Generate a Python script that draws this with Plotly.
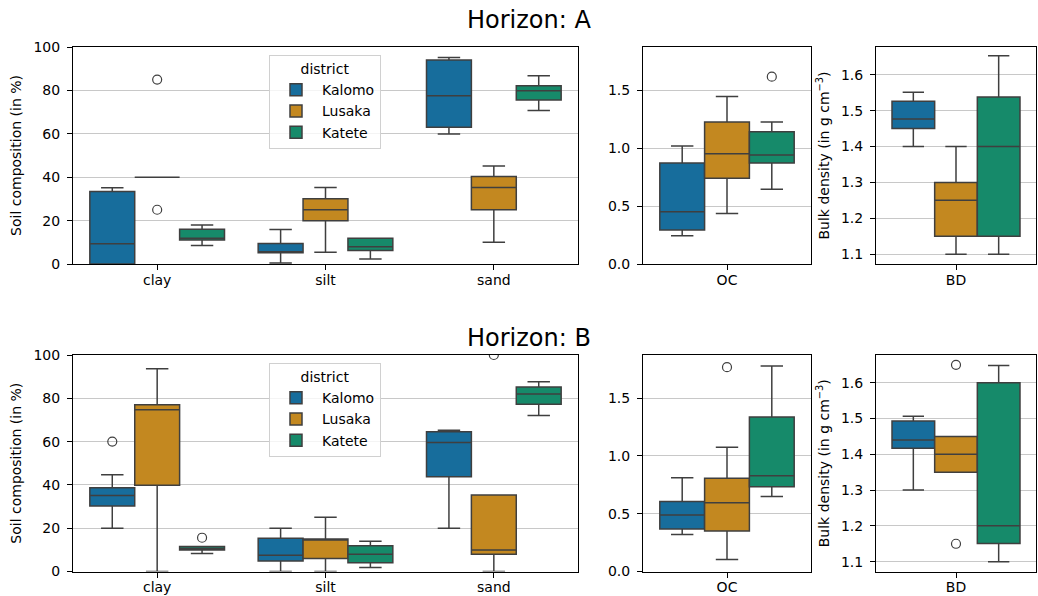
import plotly.graph_objects as go

# ---------------- data ----------------
districts = ["Kalomo", "Lusaka", "Katete"]
colors = ["#176D9C", "#C38820", "#168A6A"]
texture_cats = ["clay", "silt", "sand"]

# Horizon A, texture (rows: districts, cols: clay, silt, sand)
a_tex_lo = [[0.0, 0.5, 59.9], [40.0, 5.4, 10.0], [8.5, 2.3, 70.7]]
a_tex_q1 = [[0.0, 5.2, 63.0], [40.0, 19.9, 25.0], [11.1, 6.2, 75.6]]
a_tex_med = [[9.3, 5.5, 77.5], [40.0, 25.0, 35.2], [11.9, 8.0, 79.8]]
a_tex_q3 = [[33.4, 9.5, 94.0], [40.0, 30.1, 40.3], [16.0, 11.9, 82.1]]
a_tex_hi = [[35.1, 15.9, 95.2], [40.0, 35.3, 45.2], [18.0, 11.9, 86.7]]
a_tex_out_district = ["Lusaka", "Lusaka"]
a_tex_out_cat = ["clay", "clay"]
a_tex_out_val = [85.0, 25.0]

# Horizon A, OC (per district)
a_oc_lo = [0.244, 0.436, 0.645]
a_oc_q1 = [0.293, 0.739, 0.871]
a_oc_med = [0.451, 0.952, 0.940]
a_oc_q3 = [0.871, 1.224, 1.141]
a_oc_hi = [1.017, 1.444, 1.224]
a_oc_out_district = ["Katete"]
a_oc_out_val = [1.616]

# Horizon A, BD
a_bd_lo = [1.40, 1.10, 1.10]
a_bd_q1 = [1.45, 1.15, 1.15]
a_bd_med = [1.477, 1.25, 1.40]
a_bd_q3 = [1.526, 1.30, 1.538]
a_bd_hi = [1.551, 1.40, 1.653]
a_bd_out_district = []
a_bd_out_val = []

# Horizon B, texture
b_tex_lo = [[20.0, 0.0, 20.0], [0.0, 0.0, 0.0], [8.3, 1.8, 72.1]]
b_tex_q1 = [[30.2, 4.9, 43.8], [39.8, 6.0, 8.0], [9.9, 4.0, 77.2]]
b_tex_med = [[35.1, 7.5, 59.6], [74.7, 14.9, 9.9], [10.6, 8.0, 82.0]]
b_tex_q3 = [[38.7, 15.4, 64.6], [77.0, 15.0, 35.3], [11.6, 11.9, 85.2]]
b_tex_hi = [[44.7, 20.0, 65.2], [93.7, 25.1, 35.3], [11.6, 14.0, 87.7]]
b_tex_out_district = ["Kalomo", "Katete", "Lusaka"]
b_tex_out_cat = ["clay", "clay", "sand"]
b_tex_out_val = [60.0, 15.6, 100.0]

# Horizon B, OC
b_oc_lo = [0.319, 0.103, 0.649]
b_oc_q1 = [0.368, 0.351, 0.733]
b_oc_med = [0.489, 0.595, 0.828]
b_oc_q3 = [0.606, 0.807, 1.336]
b_oc_hi = [0.810, 1.075, 1.776]
b_oc_out_district = ["Lusaka"]
b_oc_out_val = [1.767]

# Horizon B, BD
b_bd_lo = [1.30, 1.35, 1.10]
b_bd_q1 = [1.417, 1.35, 1.151]
b_bd_med = [1.44, 1.40, 1.20]
b_bd_q3 = [1.493, 1.45, 1.60]
b_bd_hi = [1.506, 1.45, 1.648]
b_bd_out_district = ["Lusaka", "Lusaka"]
b_bd_out_val = [1.65, 1.15]

# ---------------- style / layout ----------------
W, H = 1038, 596
FONT = "DejaVu Sans"
LINE = "#3F3F3F"
GRID = "#C8C8C8"
group_w = 0.8
box_w = group_w / len(districts)


def px_x(a, b):
    return [a / W, b / W]


def px_y(top, bottom):
    return [1 - bottom / H, 1 - top / H]


fig = go.Figure()


def offset(d):
    return (d - (len(districts) - 1) / 2) * box_w


def add_panel(xa, ya, cats, lo, q1, med, q3, hi, out_d, out_c, out_v, legend):
    multi = isinstance(q1[0], list)
    for d, name in enumerate(districts):
        xs = [i + offset(d) for i in range(len(cats))]
        if multi:
            L, Q1, M, Q3, Hh = lo[d], q1[d], med[d], q3[d], hi[d]
        else:
            L, Q1, M, Q3, Hh = [lo[d]], [q1[d]], [med[d]], [q3[d]], [hi[d]]
        fig.add_trace(go.Box(
            x=xs, q1=Q1, median=M, q3=Q3, lowerfence=L, upperfence=Hh,
            width=box_w, name=name, fillcolor=colors[d],
            line=dict(color=LINE, width=1.5), whiskerwidth=0.5,
            boxpoints=False, xaxis=xa, yaxis=ya,
            showlegend=legend is not None, legend=legend or "legend",
            hoverinfo="skip",
        ))
    if out_v:
        ox = []
        for dn, cn in zip(out_d, out_c):
            ox.append(cats.index(cn) + offset(districts.index(dn)))
        fig.add_trace(go.Scatter(
            x=ox, y=out_v, mode="markers", xaxis=xa, yaxis=ya,
            marker=dict(symbol="circle-open", size=9, color=LINE,
                        line=dict(width=1.2, color=LINE)),
            showlegend=False, hoverinfo="skip",
        ))


# Row A
add_panel("x", "y", texture_cats, a_tex_lo, a_tex_q1, a_tex_med, a_tex_q3, a_tex_hi,
          a_tex_out_district, a_tex_out_cat, a_tex_out_val, "legend")
add_panel("x2", "y2", ["OC"], a_oc_lo, a_oc_q1, a_oc_med, a_oc_q3, a_oc_hi,
          a_oc_out_district, ["OC"] * len(a_oc_out_val), a_oc_out_val, None)
add_panel("x3", "y3", ["BD"], a_bd_lo, a_bd_q1, a_bd_med, a_bd_q3, a_bd_hi,
          a_bd_out_district, ["BD"] * len(a_bd_out_val), a_bd_out_val, None)
# Row B
add_panel("x4", "y4", texture_cats, b_tex_lo, b_tex_q1, b_tex_med, b_tex_q3, b_tex_hi,
          b_tex_out_district, b_tex_out_cat, b_tex_out_val, "legend2")
add_panel("x5", "y5", ["OC"], b_oc_lo, b_oc_q1, b_oc_med, b_oc_q3, b_oc_hi,
          b_oc_out_district, ["OC"] * len(b_oc_out_val), b_oc_out_val, None)
add_panel("x6", "y6", ["BD"], b_bd_lo, b_bd_q1, b_bd_med, b_bd_q3, b_bd_hi,
          b_bd_out_district, ["BD"] * len(b_bd_out_val), b_bd_out_val, None)

axis_common = dict(showline=True, mirror=True, linecolor="black", linewidth=1,
                   ticks="outside", ticklen=5, tickwidth=1, tickcolor="black",
                   zeroline=False, automargin=False,
                   tickfont=dict(size=14, color="black", family=FONT))

cols = {"main": (73, 578), "oc": (643, 811), "bd": (876, 1036)}
rows = {"A": (47, 264), "B": (355, 571.5)}

layout = dict(
    width=W, height=H, margin=dict(l=0, r=0, t=0, b=0, pad=0),
    paper_bgcolor="white", plot_bgcolor="white",
    font=dict(family=FONT, size=14, color="black"),
    boxmode="overlay",
)

for r, (ax_main, ax_oc, ax_bd) in {"A": (1, 2, 3), "B": (4, 5, 6)}.items():
    ydom = px_y(*rows[r])

    def nm(k, p):
        return f"{p}axis" if k == 1 else f"{p}axis{k}"
    # main
    layout[nm(ax_main, "x")] = dict(domain=px_x(*cols["main"]), anchor=f"y{'' if ax_main == 1 else ax_main}",
                                    range=[-0.5, len(texture_cats) - 0.5], tickvals=list(range(len(texture_cats))),
                                    ticktext=texture_cats, showgrid=False, ticklabelstandoff=-2, **axis_common)
    layout[nm(ax_main, "y")] = dict(domain=ydom, anchor=f"x{'' if ax_main == 1 else ax_main}",
                                    range=[0, 100], dtick=20, showgrid=True, gridcolor=GRID, gridwidth=1,
                                    ticklabelstandoff=4,
                                    title=dict(text="Soil composition (in %)", font=dict(size=14), standoff=8),
                                    **axis_common)
    # OC
    layout[nm(ax_oc, "x")] = dict(domain=px_x(*cols["oc"]), anchor=f"y{ax_oc}", range=[-0.5, 0.5],
                                  tickvals=[0], ticktext=["OC"], showgrid=False, ticklabelstandoff=-2,
                                  **axis_common)
    layout[nm(ax_oc, "y")] = dict(domain=ydom, anchor=f"x{ax_oc}", range=[0, 1.872],
                                  tickvals=[0, 0.5, 1.0, 1.5], tickformat=".1f", ticklabelstandoff=4,
                                  showgrid=True, gridcolor=GRID, gridwidth=1, **axis_common)
    # BD
    layout[nm(ax_bd, "x")] = dict(domain=px_x(*cols["bd"]), anchor=f"y{ax_bd}", range=[-0.5, 0.5],
                                  tickvals=[0], ticktext=["BD"], showgrid=False, ticklabelstandoff=-2,
                                  **axis_common)
    layout[nm(ax_bd, "y")] = dict(domain=ydom, anchor=f"x{ax_bd}", range=[1.0725, 1.6775],
                                  tickvals=[1.1, 1.2, 1.3, 1.4, 1.5, 1.6], tickformat=".1f",
                                  ticklabelstandoff=4,
                                  showgrid=True, gridcolor=GRID, gridwidth=1,
                                  title=dict(text="Bulk density (in g cm<sup>−3</sup>)", font=dict(size=14), standoff=8),
                                  **axis_common)

legend_style = dict(
    title=dict(text="district", side="top center", font=dict(size=14)),
    font=dict(size=14, family=FONT, color="black"),
    bgcolor="rgba(255,255,255,0.8)", bordercolor="#D0D0D0", borderwidth=1,
    xanchor="left", yanchor="top", tracegroupgap=0, itemwidth=42,
)
layout["legend"] = dict(x=269 / W, y=1 - 55 / H, **legend_style)
layout["legend2"] = dict(x=269 / W, y=1 - 363 / H, **legend_style)

layout["annotations"] = [
    dict(text="Horizon: A", x=529 / W, y=1 - 20 / H, xref="paper", yref="paper",
         showarrow=False, font=dict(size=24, family=FONT, color="black"), xanchor="center", yanchor="middle"),
    dict(text="Horizon: B", x=529 / W, y=1 - 338 / H, xref="paper", yref="paper",
         showarrow=False, font=dict(size=24, family=FONT, color="black"), xanchor="center", yanchor="middle"),
]

fig.update_layout(**layout)
fig.write_html(
    "out.html",
    config={"displayModeBar": False},
    post_script="document.body.style.margin='0';document.body.style.padding='0';"
                "document.documentElement.style.overflow='hidden';",
)
